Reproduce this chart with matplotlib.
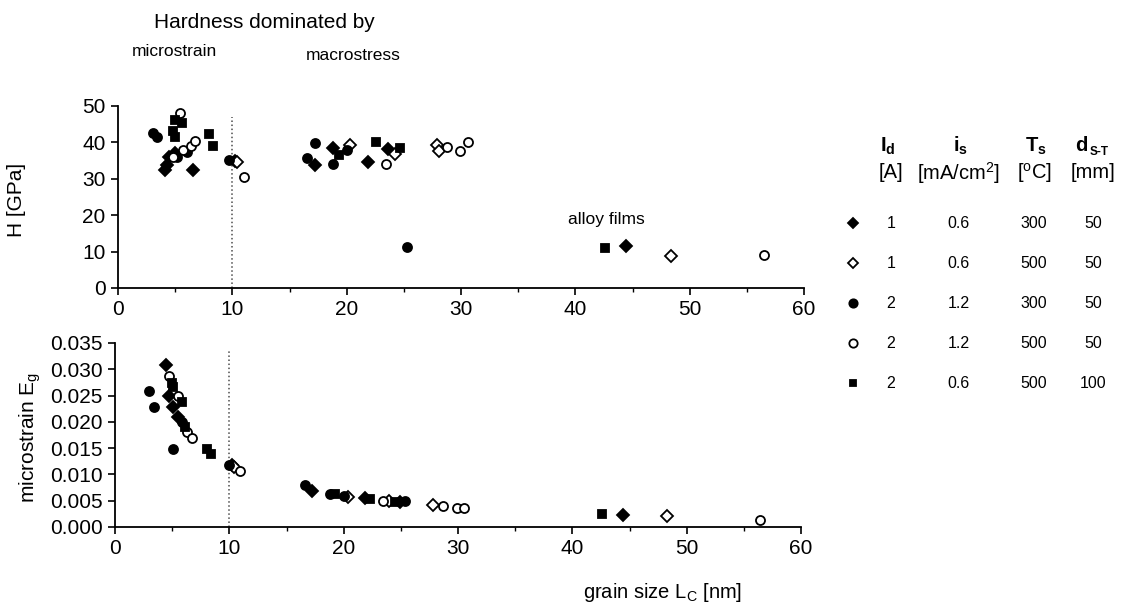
"""
Hardness and microstrain versus grain size for nitride films.
"""

import matplotlib
matplotlib.use('Agg')
import matplotlib.pyplot as plt
from matplotlib.ticker import MultipleLocator, FormatStrFormatter

# ---- data: hardness H [GPa] vs grain size [nm] ----
h_fd_x = [4.1, 4.3, 4.5, 5.0, 6.6, 10.2, 17.2, 18.8, 21.9, 23.6, 44.4]
h_fd_y = [32.3, 33.8, 36.0, 37.0, 32.5, 34.8, 33.8, 38.4, 34.7, 38.1, 11.5]
h_od_x = [10.4, 20.3, 24.2, 27.9, 28.1, 48.4]
h_od_y = [34.5, 39.3, 36.8, 39.3, 37.7, 8.9]
h_fc_x = [3.1, 3.4, 5.2, 6.0, 9.7, 16.5, 17.2, 18.8, 20.0, 25.3]
h_fc_y = [42.5, 41.6, 36.0, 37.4, 35.2, 35.6, 39.9, 34.0, 37.9, 11.2]
h_oc_x = [4.8, 5.4, 5.7, 6.4, 6.7, 11.0, 23.4, 28.8, 29.9, 30.6, 56.5]
h_oc_y = [35.9, 48.2, 37.9, 39.0, 40.3, 30.6, 34.2, 38.8, 37.5, 40.0, 9.0]
h_fs_x = [4.8, 5.0, 5.0, 5.6, 8.0, 8.3, 19.3, 22.6, 24.7, 42.6]
h_fs_y = [43.0, 46.2, 41.4, 45.4, 42.2, 39.0, 36.5, 40.2, 38.4, 10.9]

# ---- data: microstrain vs grain size [nm] ----
e_fd_x = [4.5, 4.7, 5.1, 5.5, 10.2, 17.2, 21.9, 24.9, 44.4]
e_fd_y = [0.0308, 0.0249, 0.0229, 0.0210, 0.0117, 0.0068, 0.0055, 0.0048, 0.0023]
e_od_x = [10.4, 20.4, 24.0, 27.85, 48.3]
e_od_y = [0.0115, 0.0057, 0.0050, 0.0042, 0.0021]
e_fc_x = [3.0, 3.44, 5.04, 5.9, 10.0, 16.6, 18.8, 20.0, 25.4]
e_fc_y = [0.0259, 0.0229, 0.0148, 0.0200, 0.0118, 0.0080, 0.0063, 0.0059, 0.0049]
e_oc_x = [4.75, 5.48, 6.27, 6.77, 10.94, 23.4, 28.7, 29.9, 30.5, 56.4]
e_oc_y = [0.0287, 0.0249, 0.0180, 0.0169, 0.0107, 0.0050, 0.0039, 0.0036,
          0.0036, 0.0013]
e_fs_x = [4.96, 5.1, 5.83, 6.1, 8.02, 8.37, 19.25, 22.3, 24.5, 42.6]
e_fs_y = [0.0273, 0.0267, 0.0238, 0.0191, 0.0148, 0.0139, 0.0063, 0.0053,
          0.0048, 0.0025]

# ---- legend table ----
col_id = ['1', '1', '2', '2', '2']
col_is = ['0.6', '0.6', '1.2', '1.2', '0.6']
col_ts = ['300', '500', '300', '500', '500']
col_d = ['50', '50', '50', '50', '100']

# marker styles: (marker, filled, size)
styles = [('D', True, 6.0), ('D', False, 6.0), ('o', True, 6.5),
          ('o', False, 6.5), ('s', True, 5.5)]

W, H = 1121, 608

plt.rcParams['font.family'] = ['Liberation Sans', 'DejaVu Sans']
plt.rcParams['mathtext.fontset'] = 'custom'
plt.rcParams['mathtext.rm'] = 'Liberation Sans'
plt.rcParams['mathtext.it'] = 'Liberation Sans:italic'
plt.rcParams['mathtext.bf'] = 'Liberation Sans:bold'


def px_axes(fig, left, top, right, bottom):
    """Add axes given pixel box"""
    return fig.add_axes([left / W, 1 - bottom / H,
                         (right - left) / W, (bottom - top) / H])


def style_axes(ax):
    for s in ['top', 'right']:
        ax.spines[s].set_visible(False)
    for s in ['left', 'bottom']:
        ax.spines[s].set_linewidth(1.3)
    ax.xaxis.set_major_locator(MultipleLocator(10))
    ax.xaxis.set_minor_locator(MultipleLocator(5))
    ax.tick_params(which='major', direction='out', length=5, width=1.2,
                   labelsize=15, pad=4)
    ax.tick_params(which='minor', direction='out', length=3, width=1.0)
    ax.set_xlim(0, 60)


def scatter_sets(ax, sets):
    for (x, y), (m, filled, ms) in zip(sets, styles):
        ax.plot(x, y, linestyle='none', marker=m, ms=ms,
                mfc='black' if filled else 'white', mec='black', mew=1.3,
                clip_on=False, zorder=3)


fig = plt.figure(figsize=(W / 100, H / 100), dpi=100)

# top panel
ax1 = px_axes(fig, 118, 106, 804, 288)
style_axes(ax1)
ax1.set_ylim(0, 50)
ax1.yaxis.set_major_locator(MultipleLocator(10))
ax1.axvline(10, ymin=0, ymax=0.94, color='0.3', linestyle=':', lw=1.1)
scatter_sets(ax1, [(h_fd_x, h_fd_y), (h_od_x, h_od_y), (h_fc_x, h_fc_y),
                   (h_oc_x, h_oc_y), (h_fs_x, h_fs_y)])
ax1.text(42.7, 18.8, 'alloy films', fontsize=12.5, ha='center', va='center')

# bottom panel
ax2 = px_axes(fig, 115, 343, 801, 527)
style_axes(ax2)
ax2.set_ylim(0, 0.035)
ax2.yaxis.set_major_locator(MultipleLocator(0.005))
ax2.yaxis.set_major_formatter(FormatStrFormatter('%.3f'))
ax2.axvline(10, ymin=0, ymax=0.97, color='0.3', linestyle=':', lw=1.1)
scatter_sets(ax2, [(e_fd_x, e_fd_y), (e_od_x, e_od_y), (e_fc_x, e_fc_y),
                   (e_oc_x, e_oc_y), (e_fs_x, e_fs_y)])

# axis labels
fig.text(17 / W, 1 - 200 / H, 'H [GPa]', rotation=90, fontsize=15,
         ha='center', va='center')
fig.text(30 / W, 1 - 437 / H, 'microstrain E$_\\mathrm{g}$', rotation=90,
         fontsize=15, ha='center', va='center')
fig.text(663 / W, 1 - 592 / H, 'grain size L$_\\mathrm{C}$ [nm]',
         fontsize=14.5, ha='center', va='center')

# annotations
fig.text(264 / W, 1 - 22 / H, 'Hardness dominated by', fontsize=15,
         ha='center', va='center')
fig.text(174 / W, 1 - 52 / H, 'microstrain', fontsize=12.5,
         ha='center', va='center')
fig.text(353 / W, 1 - 56 / H, 'macrostress', fontsize=12.5,
         ha='center', va='center')

# legend table
col_x = [891, 959, 1034, 1093]
head_x = [888, 961, 1036, 1081]
head_y, unit_y = 146, 173
heads = ['I$_\\mathbf{d}$', 'i$_\\mathbf{s}$', 'T$_\\mathbf{s}$', 'd']
units = ['[A]', '[mA/cm$^2$]', '[$^\\mathrm{o}$C]', '[mm]']
for cx, hx, hd, un in zip(col_x, head_x, heads, units):
    fig.text(hx / W, 1 - head_y / H, hd, fontsize=14.5, fontweight='bold',
             ha='center', va='center')
    fig.text(cx / W, 1 - unit_y / H, un, fontsize=14.5,
             ha='center', va='center')
fig.text(1090 / W, 1 - 152 / H, 'S-T', fontsize=8.5, fontweight='bold',
         ha='left', va='center')

row_y = [223, 263, 303, 343, 383]
lax = fig.add_axes([0, 0, 1, 1])
lax.set_xlim(0, W)
lax.set_ylim(H, 0)
lax.axis('off')
for ry, (m, filled, ms) in zip(row_y, styles):
    lax.plot([853], [ry], linestyle='none', marker=m, ms=ms - 0.5,
             mfc='black' if filled else 'white', mec='black', mew=1.3)
for ry, a, b, c, d in zip(row_y, col_id, col_is, col_ts, col_d):
    for cx, val in zip(col_x, [a, b, c, d]):
        lax.text(cx, ry, val, fontsize=11.5, ha='center', va='center')

fig.savefig('out.png', dpi=100)
